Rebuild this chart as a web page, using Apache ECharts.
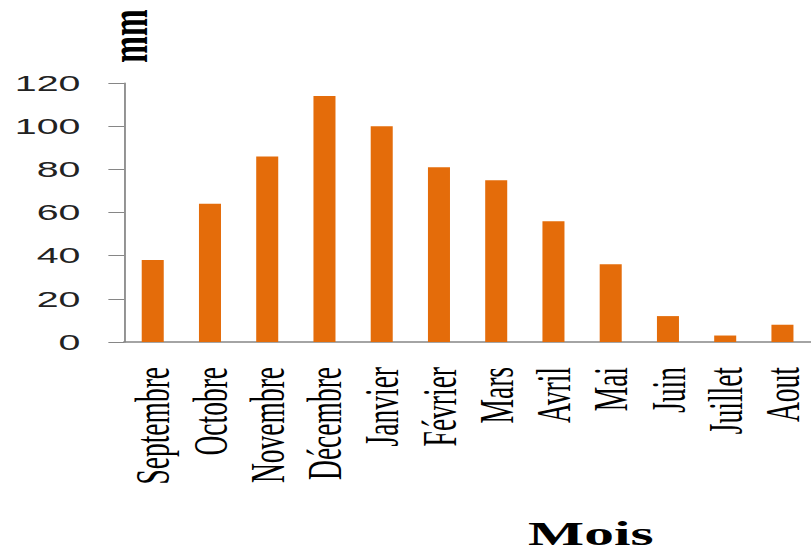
<!DOCTYPE html>
<html>
<head>
<meta charset="utf-8">
<script src="https://cdn.jsdelivr.net/npm/echarts@6/dist/echarts.min.js"></script>
<style>
  html, body { margin: 0; padding: 0; background: #fff; overflow: hidden; }
  #wrap { width: 811px; height: 554px; overflow: hidden; position: relative; }
  /* the chart is laid out narrow and widened horizontally */
  #chart { width: 464px; height: 554px; transform-origin: 0 0; transform: scaleX(1.748); }
</style>
</head>
<body>
<div id="wrap"><div id="chart"></div></div>
<script>
// Monthly precipitation (mm), September to August
const months = ['Septembre', 'Octobre', 'Novembre', 'Décembre', 'Janvier', 'Février',
                'Mars', 'Avril', 'Mai', 'Juin', 'Juillet', 'Aout'];
const rainfall = [38, 64, 86, 114, 100, 81, 75, 56, 36, 12, 3, 8];
const yTicks = [0, 20, 40, 60, 80, 100, 120];

const chart = echarts.init(document.getElementById('chart'), null, { renderer: 'svg' });

chart.setOption({
  animation: false,
  backgroundColor: '#ffffff',
  grid: { left: 71, top: 83, width: 397, height: 259, containLabel: false },
  xAxis: {
    type: 'category',
    data: months,
    axisLine: { lineStyle: { color: '#868686', width: 1.5 } },
    axisTick: { length: 8, lineStyle: { color: '#868686', width: 1 } },
    axisLabel: {
      rotate: 90,
      margin: 25,
      interval: 0,
      fontFamily: '"Liberation Serif", "Times New Roman", serif',
      fontSize: 27.5,
      color: '#000'
    },
    splitLine: { show: false }
  },
  yAxis: {
    type: 'value',
    min: yTicks[0],
    max: yTicks[yTicks.length - 1],
    interval: yTicks[1] - yTicks[0],
    axisLine: { show: true, lineStyle: { color: '#868686', width: 1 } },
    axisTick: { show: true, length: 9, lineStyle: { color: '#868686', width: 1 } },
    axisLabel: {
      margin: 25,
      fontFamily: '"Liberation Sans", Arial, sans-serif',
      fontSize: 22.5,
      color: '#222'
    },
    splitLine: { show: false }
  },
  series: [{
    type: 'bar',
    data: rainfall,
    barWidth: 12.6,
    itemStyle: { color: '#E46C0A' }
  }],
  graphic: [
    {
      type: 'text',
      x: 73, y: 36,
      rotation: Math.PI / 2,
      style: {
        text: 'mm',
        fontFamily: '"Liberation Serif", "Times New Roman", serif',
        fontWeight: 'bold',
        fontSize: 32,
        fill: '#000',
        align: 'center',
        verticalAlign: 'middle'
      }
    },
    {
      type: 'text',
      x: 338, y: 550,
      style: {
        text: 'Mois',
        fontFamily: '"Liberation Serif", "Times New Roman", serif',
        fontWeight: 'bold',
        fontSize: 34,
        fill: '#000',
        align: 'center',
        verticalAlign: 'bottom'
      }
    }
  ]
});
</script>
</body>
</html>
